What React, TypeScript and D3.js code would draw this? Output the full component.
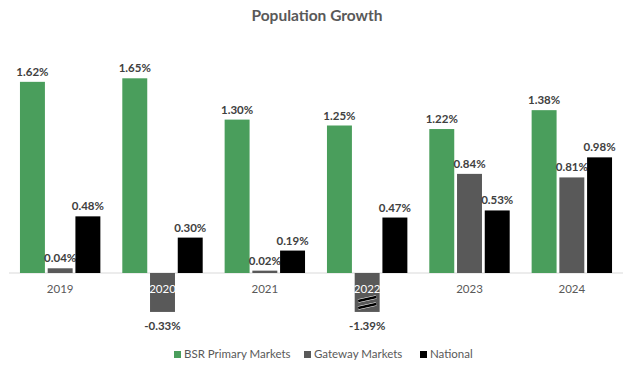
import React from "react";
import * as d3 from "d3";

const years = ["2019", "2020", "2021", "2022", "2023", "2024"];
const seriesNames = ["BSR Primary Markets", "Gateway Markets", "National"];
const bsr = [1.62, 1.65, 1.3, 1.25, 1.22, 1.38];
const gateway = [0.04, -0.33, 0.02, -1.39, 0.84, 0.81];
const national = [0.48, 0.3, 0.19, 0.47, 0.53, 0.98];
const colors = ["#4A9E5C", "#595959", "#000000"];
const yMin = -0.33;
const yMax = 1.65;

const W = 640;
const H = 367;
const FONT = "Lato, 'Open Sans', sans-serif";

export default function App() {
  const values = [bsr, gateway, national];
  const x0 = d3.scaleBand<string>().domain(years).range([9, 623]);
  const groupW = 80.4;
  const x1 = d3
    .scaleBand<string>()
    .domain(seriesNames)
    .range([(x0.bandwidth() - groupW) / 2, (x0.bandwidth() + groupW) / 2])
    .paddingInner(0.1);
  const y = d3.scaleLinear().domain([yMin, yMax]).range([273 + 0.33 * 118, 273 - 1.65 * 118]);
  const y0 = y(0);
  const fmt = (v: number) => v.toFixed(2) + "%";

  return (
    <svg width={W} height={H} style={{ position: "absolute", left: 0, top: 0 }}>
      <rect width={W} height={H} fill="#fff" />
      <text x={317} y={21} textAnchor="middle" fontFamily={FONT} fontWeight={700} fontSize={15.5} fill="#595959">
        Population Growth
      </text>
      <line x1={9} x2={623} y1={y0} y2={y0} stroke="#D9D9D9" strokeWidth={1} />
      {years.map((yr, i) => {
        const negIdx = values.findIndex((s) => s[i] < 0);
        return (
          <g key={yr} transform={`translate(${x0(yr)},0)`}>
            {seriesNames.map((s, j) => {
              const v = values[j][i];
              const vc = Math.max(v, yMin);
              const bx = x1(s)!;
              const bw = x1.bandwidth();
              const top = Math.min(y(vc), y0);
              const h = Math.abs(y(vc) - y0);
              const cx = bx + bw / 2;
              return (
                <g key={s}>
                  <rect x={bx} y={top} width={bw} height={Math.max(h, 0.5)} fill={colors[j]} />
                  <text
                    x={cx}
                    y={v >= 0 ? top - 6 : y(vc) + 18}
                    textAnchor="middle"
                    fontFamily={FONT}
                    fontWeight={700}
                    fontSize={11.5}
                    fill="#404040"
                  >
                    {fmt(v)}
                  </text>
                  {v < yMin && (
                    <g>
                      {[0, 7].map((d) => (
                        <g key={d}>
                          <line x1={cx - 9} x2={cx + 9} y1={y0 + 28 + d} y2={y0 + 24 + d} stroke="#fff" strokeWidth={3.8} />
                          <line x1={cx - 9} x2={cx + 9} y1={y0 + 28 + d} y2={y0 + 24 + d} stroke="#000" strokeWidth={2.8} />
                        </g>
                      ))}
                    </g>
                  )}
                </g>
              );
            })}
            <text
              x={x0.bandwidth() / 2}
              y={y0 + 20}
              textAnchor="middle"
              fontFamily={FONT}
              fontSize={11.5}
              fill={negIdx >= 0 ? "#FFFFFF" : "#595959"}
            >
              {yr}
            </text>
          </g>
        );
      })}
      {seriesNames.map((s, j) => {
        const lx = [174, 304, 420][j];
        return (
          <g key={s}>
            <rect x={lx} y={351} width={7} height={7} fill={colors[j]} />
            <text x={lx + 10} y={358} fontFamily={FONT} fontSize={11.5} fill="#595959">
              {s}
            </text>
          </g>
        );
      })}
    </svg>
  );
}
